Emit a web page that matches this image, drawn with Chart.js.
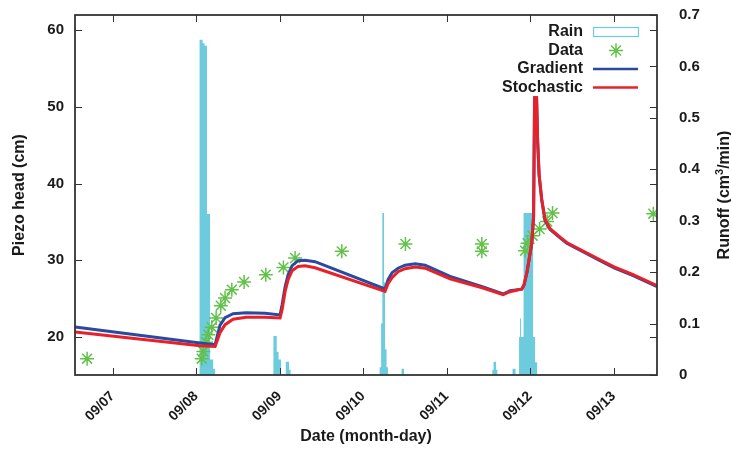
<!DOCTYPE html>
<html>
<head>
<meta charset="utf-8">
<script src="https://cdn.jsdelivr.net/npm/chart.js@4.4.1/dist/chart.umd.min.js"></script>
<style>
  html, body { margin: 0; padding: 0; background: #fff; }
  #wrap { width: 731px; height: 450px; }
</style>
</head>
<body>
<div id="wrap"><canvas id="grafico_piezo"></canvas></div>
<script>
// days of September, as decimal days
var dayTicks = [7, 8, 9, 10, 11, 12, 13];
var headTicks = [20, 30, 40, 50, 60];
var runoffTicks = [0, 0.1, 0.2, 0.3, 0.4, 0.5, 0.6, 0.7];

// rain (step starts, right axis)
var rainDays = [6.55, 8.042, 8.078, 8.102, 8.131, 8.168, 8.204, 8.228,
  8.926, 8.966, 8.988, 9.018, 9.074, 9.114, 9.132,
  10.198, 10.216, 10.231, 10.251, 10.263, 10.281, 10.299, 10.461, 10.491,
  11.548, 11.563, 11.593, 11.608, 11.790, 11.826,
  11.868, 11.880, 11.892, 11.922, 12.036, 12.060, 12.084, 13.52];
var rainValues = [0, 0.652, 0.645, 0.640, 0.313, 0.03, 0.012, 0,
  0.076, 0.045, 0.03, 0, 0.026, 0.01, 0,
  0.015, 0.1, 0.315, 0.18, 0.05, 0.015, 0, 0.012, 0,
  0.01, 0.026, 0.01, 0, 0.012, 0,
  0.074, 0.11, 0.074, 0.315, 0.074, 0.025, 0, 0];

// measured piezo head
var dataDays = [6.695, 8.068, 8.087, 8.120, 8.147, 8.188, 8.240, 8.296, 8.347, 8.428,
  8.575, 8.835, 9.046, 9.186, 9.745, 10.507, 11.422, 11.422,
  11.940, 11.970, 12.030, 12.114, 12.204, 12.269, 13.476];
var dataHead = [17.13, 17.13, 18.08, 19.28, 20.26, 21.24, 22.44, 24.05, 25.05, 26.14,
  27.14, 28.09, 29.05, 30.27, 31.14, 32.10, 32.10, 31.14,
  31.23, 32.21, 33.19, 34.06, 35.05, 36.15, 36.06];

// model curves
var modelDays = [6.551, 8.048, 8.228, 8.287, 8.347, 8.443, 8.599, 8.826, 9.006, 9.030,
  9.066, 9.102, 9.150, 9.222, 9.305, 9.425, 10.263, 10.299, 10.347, 10.419,
  10.503, 10.623, 10.743, 11.042, 11.437, 11.677, 11.760, 11.901, 11.928, 11.964,
  12.020, 12.042, 12.054, 12.078, 12.090, 12.108, 12.140, 12.180, 12.240, 12.359,
  12.439, 12.838, 13.006, 13.234, 13.521];
var gradientHead = [21.27, 19.18, 18.96, 21.5, 22.48, 23.0, 23.13, 23.07, 22.85, 24.18,
  26.5, 28.1, 29.27, 29.92, 29.99, 29.79, 26.23, 27.44, 28.36, 28.94,
  29.33, 29.53, 29.33, 27.87, 26.49, 25.57, 26.0, 26.2, 26.75, 28.45,
  32.15, 35.6, 51.2, 51.2, 45.7, 41.1, 37.8, 35.15, 33.98, 32.9,
  32.2, 29.93, 29.0, 27.97, 26.54];
var stochasticHead = [20.61, 18.83, 18.73, 20.52, 21.57, 22.28, 22.55, 22.55, 22.44, 23.52,
  25.87, 27.44, 28.62, 29.18, 29.27, 29.0, 25.91, 26.92, 27.70, 28.49,
  28.88, 29.10, 28.94, 27.57, 26.36, 25.48, 25.87, 26.23, 26.79, 28.52,
  32.23, 35.70, 51.2, 51.2, 45.7, 41.15, 37.88, 35.27, 34.1, 33.0,
  32.3, 30.05, 29.13, 28.09, 26.66];

function pairs(xs, ys) {
  return xs.map(function (x, i) { return { x: x, y: ys[i] }; });
}

var fontBold = function (size) {
  return { family: "'Liberation Sans', Arial, sans-serif", size: size, weight: 'bold' };
};

// keep the plot box where gnuplot put it
function noEdgePadding(s) {
  s.paddingTop = 0; s.paddingBottom = 0; s.paddingLeft = 0; s.paddingRight = 0;
}

var rainColor = '#6ccbdc';
var dataColor = '#62c14a';
var gradColor = '#2b4a9f';
var stochColor = '#e8202a';

var gnuFrame = {
  id: 'gnuFrame',
  afterDatasetsDraw: function (chart) {
    var ctx = chart.ctx, a = chart.chartArea, s = chart.scales;
    var tl = 7;
    ctx.save();
    ctx.strokeStyle = '#333';
    ctx.lineWidth = 1;
    ctx.beginPath();
    s.x.ticks.forEach(function (t) {
      var px = Math.round(s.x.getPixelForValue(t.value)) + 0.5;
      ctx.moveTo(px, a.bottom); ctx.lineTo(px, a.bottom - tl);
      ctx.moveTo(px, a.top); ctx.lineTo(px, a.top + tl);
    });
    s.y.ticks.forEach(function (t) {
      var py = Math.round(s.y.getPixelForValue(t.value)) + 0.5;
      ctx.moveTo(a.left, py); ctx.lineTo(a.left + tl, py);
      ctx.moveTo(a.right, py); ctx.lineTo(a.right - tl, py);
    });
    s.y1.ticks.forEach(function (t) {
      var py = Math.round(s.y1.getPixelForValue(t.value)) + 0.5;
      ctx.moveTo(a.right, py); ctx.lineTo(a.right - tl, py);
    });
    ctx.stroke();
    ctx.lineWidth = 1.8;
    ctx.strokeRect(a.left, a.top, a.right - a.left, a.bottom - a.top);
    ctx.restore();
  },
  afterDraw: function (chart) {
    var ctx = chart.ctx, a = chart.chartArea;
    ctx.save();
    ctx.fillStyle = '#1a1a1a';
    ctx.font = "bold 16px 'Liberation Sans', Arial, sans-serif";
    ctx.textBaseline = 'middle';

    // legend
    var labels = ['Rain', 'Data', 'Gradient', 'Stochastic'];
    var ly = [32, 50.5, 69, 87.5];
    ctx.textAlign = 'right';
    labels.forEach(function (l, i) { ctx.fillText(l, 583, ly[i]); });
    ctx.strokeStyle = rainColor; ctx.lineWidth = 1.2;
    ctx.strokeRect(593.5, 27.5, 45, 9);
    ctx.strokeStyle = dataColor; ctx.lineWidth = 1.5;
    ctx.beginPath();
    var cx = 616, cy = 50.5, r = 7, d = r * Math.SQRT1_2;
    ctx.moveTo(cx - r, cy); ctx.lineTo(cx + r, cy);
    ctx.moveTo(cx, cy - r); ctx.lineTo(cx, cy + r);
    ctx.moveTo(cx - d, cy - d); ctx.lineTo(cx + d, cy + d);
    ctx.moveTo(cx - d, cy + d); ctx.lineTo(cx + d, cy - d);
    ctx.stroke();
    ctx.lineWidth = 2.6;
    ctx.strokeStyle = gradColor;
    ctx.beginPath(); ctx.moveTo(593, 69); ctx.lineTo(638, 69); ctx.stroke();
    ctx.strokeStyle = stochColor;
    ctx.beginPath(); ctx.moveTo(593, 87.5); ctx.lineTo(638, 87.5); ctx.stroke();

    // axis titles
    ctx.textAlign = 'center';
    ctx.fillText('Date (month-day)', (a.left + a.right) / 2, 437);
    var midY = (a.top + a.bottom) / 2;
    ctx.save();
    ctx.translate(20, midY);
    ctx.rotate(-Math.PI / 2);
    ctx.fillText('Piezo head (cm)', 0, 0);
    ctx.restore();

    // right title with superscript
    var p1 = 'Runoff (cm', sup = '3', p2 = '/min)';
    var big = "bold 16px 'Liberation Sans', Arial, sans-serif";
    var small = "bold 11px 'Liberation Sans', Arial, sans-serif";
    ctx.font = big;
    var w1 = ctx.measureText(p1).width, w3 = ctx.measureText(p2).width;
    ctx.font = small;
    var w2 = ctx.measureText(sup).width;
    var total = w1 + w2 + w3;
    ctx.save();
    ctx.translate(725, midY);
    ctx.rotate(-Math.PI / 2);
    ctx.textAlign = 'left';
    ctx.font = big;
    ctx.fillText(p1, -total / 2, 0);
    ctx.font = small;
    ctx.fillText(sup, -total / 2 + w1, -5);
    ctx.font = big;
    ctx.fillText(p2, -total / 2 + w1 + w2, 0);
    ctx.restore();
    ctx.restore();
  }
};

new Chart(document.getElementById('grafico_piezo').getContext('2d'), {
  type: 'line',
  data: {
    datasets: [
      {
        label: 'Rain',
        data: pairs(rainDays, rainValues),
        yAxisID: 'y1',
        stepped: 'before',
        borderWidth: 0,
        borderColor: rainColor,
        backgroundColor: rainColor,
        fill: 'origin',
        pointRadius: 0,
        order: 4
      },
      {
        label: 'Data',
        data: pairs(dataDays, dataHead),
        yAxisID: 'y',
        showLine: false,
        pointStyle: 'star',
        pointRadius: 7,
        pointBorderWidth: 1.5,
        borderColor: dataColor,
        backgroundColor: dataColor,
        order: 3
      },
      {
        label: 'Gradient',
        data: pairs(modelDays, gradientHead),
        yAxisID: 'y',
        borderColor: gradColor,
        borderWidth: 3,
        pointRadius: 0,
        tension: 0,
        order: 2
      },
      {
        label: 'Stochastic',
        data: pairs(modelDays, stochasticHead),
        yAxisID: 'y',
        borderColor: stochColor,
        borderWidth: 3,
        pointRadius: 0,
        tension: 0,
        order: 1
      }
    ]
  },
  options: {
    responsive: true,
    maintainAspectRatio: false,
    animation: false,
    devicePixelRatio: 1,
    layout: { padding: { top: 15, left: 0, right: 0, bottom: 0 } },
    plugins: {
      legend: { display: false },
      tooltip: { enabled: false }
    },
    scales: {
      x: {
        type: 'linear',
        min: 6.55,
        max: 13.52,
        grid: { display: false },
        border: { display: false },
        afterBuildTicks: function (s) { s.ticks = dayTicks.map(function (v) { return { value: v }; }); },
        afterFit: function (s) { s.height = 75; noEdgePadding(s); },
        ticks: {
          minRotation: 45,
          maxRotation: 45,
          padding: 5,
          color: '#1a1a1a',
          font: fontBold(14),
          callback: function (v) { return '09/' + String(v).padStart(2, '0'); }
        }
      },
      y: {
        position: 'left',
        min: 15,
        max: 62,
        grid: { display: false },
        border: { display: false },
        afterBuildTicks: function (s) { s.ticks = headTicks.map(function (v) { return { value: v }; }); },
        afterFit: function (s) { s.width = 75; noEdgePadding(s); },
        ticks: { padding: 3, color: '#1a1a1a', font: fontBold(15) }
      },
      y1: {
        position: 'right',
        min: 0,
        max: 0.7,
        grid: { display: false },
        border: { display: false },
        afterBuildTicks: function (s) { s.ticks = runoffTicks.map(function (v) { return { value: v }; }); },
        afterFit: function (s) { s.width = 74; noEdgePadding(s); },
        ticks: {
          padding: 14,
          color: '#1a1a1a',
          font: fontBold(15),
          callback: function (v) { return v === 0 ? '0' : v.toFixed(1); }
        }
      }
    }
  },
  plugins: [gnuFrame]
});
</script>
</body>
</html>
